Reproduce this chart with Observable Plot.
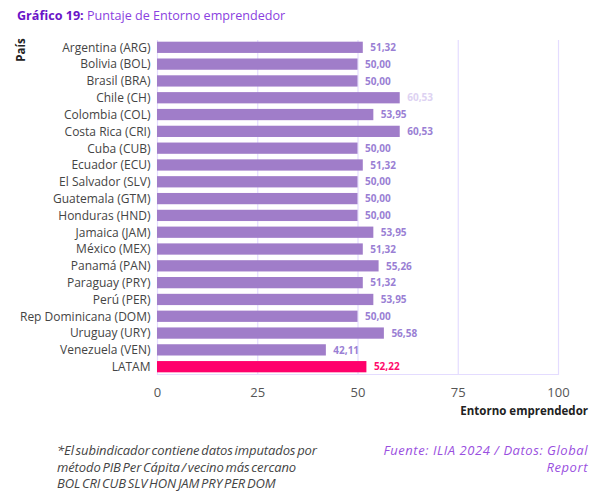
<!DOCTYPE html>
<html><head><meta charset="utf-8">
<script src="https://cdn.jsdelivr.net/npm/d3@7"></script>
<script src="https://cdn.jsdelivr.net/npm/@observablehq/plot@0.6"></script>
<style>
body{margin:0;background:#fff;font-family:"Open Sans",sans-serif;}
#wrap{position:relative;width:600px;height:491px;}
.abs{position:absolute;}
#title{left:17px;top:7px;font-size:12.6px;color:#8a3fe0;}
#title b{color:#6a14c8;}
#pais{left:20px;top:50px;font-size:11.5px;font-weight:bold;color:#222;transform:translate(-50%,-50%) rotate(-90deg);white-space:nowrap;}
#xlabel{right:12px;top:403px;font-size:11.5px;font-weight:bold;color:#222;}
#note{left:57px;top:442px;font-size:13px;font-style:italic;color:#444;line-height:16.5px;letter-spacing:-0.1px;word-spacing:-1.5px;}
#src{right:12px;top:442px;font-size:13px;font-style:italic;color:#9a4fe0;line-height:16.5px;text-align:right;letter-spacing:0.55px;}
#chart{left:0;top:0;}
</style></head>
<body><div id="wrap">
<div id="title" class="abs"><b>Gráfico 19:</b> Puntaje de Entorno emprendedor</div>
<div id="chart" class="abs"></div>
<div id="pais" class="abs">País</div>
<div id="xlabel" class="abs">Entorno emprendedor</div>
<div id="note" class="abs">*El subindicador contiene datos imputados por<br>método PIB Per Cápita / vecino más cercano<br>BOL CRI CUB SLV HON JAM PRY PER DOM</div>
<div id="src" class="abs">Fuente: ILIA 2024 / Datos: Global<br>Report</div>
</div>
<script>
const countries = ["Argentina (ARG)","Bolivia (BOL)","Brasil (BRA)","Chile (CH)","Colombia (COL)","Costa Rica (CRI)","Cuba (CUB)","Ecuador (ECU)","El Salvador (SLV)","Guatemala (GTM)","Honduras (HND)","Jamaica (JAM)","México (MEX)","Panamá (PAN)","Paraguay (PRY)","Perú (PER)","Rep Dominicana (DOM)","Uruguay (URY)","Venezuela (VEN)","LATAM"];
const values = [51.32,50.00,50.00,60.53,53.95,60.53,50.00,51.32,50.00,50.00,50.00,53.95,51.32,55.26,51.32,53.95,50.00,56.58,42.11,52.22];
const xTicks = [0,25,50,75,100];

const data = countries.map((c,i)=>({country:c,value:values[i],latam:c==="LATAM",faded:c==="Chile (CH)"}));
const fmt = v => v.toFixed(2).replace(".", ",");
const labelColor = d => d.latam ? "#ff0a6c" : (d.faded ? "#ddd2f2" : "#9a7fd4");

const chart = Plot.plot({
  width: 600,
  height: 425,
  marginLeft: 157,
  marginRight: 42,
  marginTop: 40,
  marginBottom: 51,
  style: {fontFamily: "Open Sans, sans-serif", fontSize: "12px", color: "#444"},
  x: {domain: [0,100], ticks: xTicks, label: null},
  y: {domain: countries, label: null, paddingInner: 0.33, paddingOuter: 0.1, round: false},
  marks: [
    Plot.gridX(xTicks, {stroke: "#e4dcff", strokeOpacity: 1, strokeWidth: 1.2}),
    Plot.frame({anchor: "bottom", stroke: "#e4dcff", strokeOpacity: 1, strokeWidth: 1.2}),
    Plot.barX(data, {y: "country", x: "value", fill: d => d.latam ? "#ff006b" : "#a07dc9"}),
    Plot.text(data, {y: "country", x: "value", text: d => fmt(d.value), dx: 7, textAnchor: "start",
      fill: labelColor, fontWeight: "bold", fontSize: 10}),
    Plot.axisX({ticks: xTicks, tickSize: 0, tickPadding: 13, fontSize: 13, color: "#555", label: null}),
    Plot.axisY({tickSize: 0, tickPadding: 7, fontSize: 12, label: null})
  ]
});
document.getElementById("chart").appendChild(chart);
</script>
</body></html>
